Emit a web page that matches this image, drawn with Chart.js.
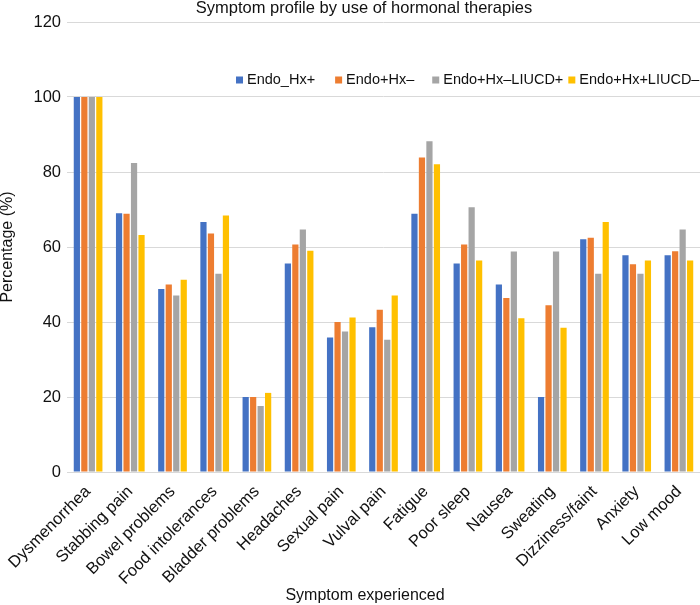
<!DOCTYPE html>
<html>
<head>
<meta charset="utf-8">
<script src="https://cdn.jsdelivr.net/npm/chart.js@4.4.0/dist/chart.umd.min.js"></script>
<style>
  html, body { margin: 0; padding: 0; background: #fff; }
  #wrap { width: 700px; height: 605px; }
</style>
</head>
<body>
<div id="wrap"><canvas id="c" width="700" height="605"></canvas></div>
<script>
const categories = ["Dysmenorrhea", "Stabbing pain", "Bowel problems", "Food intolerances", "Bladder problems", "Headaches", "Sexual pain", "Vulval pain", "Fatigue", "Poor sleep", "Nausea", "Sweating", "Dizziness/faint", "Anxiety", "Low mood"];
const seriesNames = ["Endo_Hx+", "Endo+Hx\u2013", "Endo+Hx\u2013LIUCD+", "Endo+Hx+LIUCD\u2013"];
const endoHxPlus = [100, 69.0, 48.8, 66.7, 20.0, 55.6, 35.9, 38.6, 68.9, 55.6, 50.0, 20.0, 62.1, 57.8, 57.8];
const endoHxMinus = [100, 68.9, 50.0, 63.6, 20.0, 60.7, 40.0, 43.3, 83.9, 60.7, 46.4, 44.5, 62.5, 55.4, 58.9];
const endoHxMinusLiucdPlus = [100, 82.4, 47.1, 52.9, 17.6, 64.7, 37.5, 35.3, 88.2, 70.6, 58.8, 58.8, 52.9, 52.9, 64.7];
const endoHxPlusLiucdMinus = [100, 63.2, 51.3, 68.4, 21.1, 59.0, 41.2, 47.1, 82.1, 56.4, 41.0, 38.5, 66.7, 56.4, 56.4];
const yTicks = [0, 20, 40, 60, 80, 100, 120];
const titleText = "Symptom profile by use of hormonal therapies";
const xTitleText = "Symptom experienced";
const yTitleText = "Percentage (%)";

const colors = ["#4472C4", "#ED7D31", "#A5A5A5", "#FFC000"];
const FONT = '"Liberation Sans", Arial, sans-serif';
const TEXT = "#111";

const seriesValues = [endoHxPlus, endoHxMinus, endoHxMinusLiucdPlus, endoHxPlusLiucdMinus];

const decorPlugin = {
  id: "decor",
  afterDraw(chart) {
    const ctx = chart.ctx;
    const area = chart.chartArea;
    ctx.save();
    ctx.fillStyle = TEXT;
    ctx.font = "16.5px " + FONT;
    ctx.textAlign = "center";
    ctx.textBaseline = "alphabetic";
    ctx.fillText(titleText, 364, 12.5);
    ctx.font = "16px " + FONT;
    ctx.fillText(xTitleText, 365, 600);
    ctx.save();
    ctx.translate(8, (area.top + area.bottom) / 2);
    ctx.rotate(-Math.PI / 2);
    ctx.textBaseline = "middle";
    ctx.fillText(yTitleText, 0, 0);
    ctx.restore();
    ctx.font = "14.5px " + FONT;
    ctx.textAlign = "left";
    ctx.textBaseline = "middle";
    const gaps = [20, 18, 5];
    let x = 236;
    const yMid = 80;
    chart.data.datasets.forEach((ds, i) => {
      ctx.fillStyle = ds.backgroundColor;
      ctx.fillRect(x, yMid - 3.5, 7, 7);
      ctx.fillStyle = TEXT;
      ctx.fillText(ds.label, x + 11, yMid);
      x += 11 + ctx.measureText(ds.label).width + (gaps[i] || 0);
    });
    ctx.restore();
  }
};

new Chart(document.getElementById("c"), {
  type: "bar",
  data: {
    labels: categories,
    datasets: seriesNames.map((name, i) => ({
      label: name,
      data: seriesValues[i],
      backgroundColor: colors[i],
      borderWidth: 0,
      categoryPercentage: 0.71,
      barPercentage: 0.83
    }))
  },
  options: {
    responsive: false,
    animation: false,
    devicePixelRatio: 1,
    layout: { padding: { top: 22, right: 0, bottom: 0, left: 0 } },
    plugins: {
      legend: { display: false },
      title: { display: false },
      tooltip: { enabled: false }
    },
    scales: {
      x: {
        grid: { display: false, drawTicks: false },
        border: { display: true, color: "#D9D9D9", width: 1 },
        ticks: {
          color: TEXT,
          font: { family: FONT, size: 16.5 },
          minRotation: 45,
          maxRotation: 45,
          padding: 10,
          autoSkip: false
        },
        afterFit(scale) {
          scale.height = 133;
          scale.paddingRight = 0;
          scale.paddingLeft = 0;
        }
      },
      y: {
        min: 0,
        max: 120,
        afterBuildTicks(scale) { scale.ticks = yTicks.map(v => ({ value: v })); },
        grid: { color: "#D9D9D9", lineWidth: 1, drawTicks: false },
        border: { display: false },
        ticks: {
          color: TEXT,
          font: { family: FONT, size: 16.5 },
          padding: 6
        },
        afterFit(scale) {
          scale.width = 67;
          scale.paddingTop = 0;
          scale.paddingBottom = 0;
        }
      }
    }
  },
  plugins: [decorPlugin]
});
</script>
</body>
</html>
